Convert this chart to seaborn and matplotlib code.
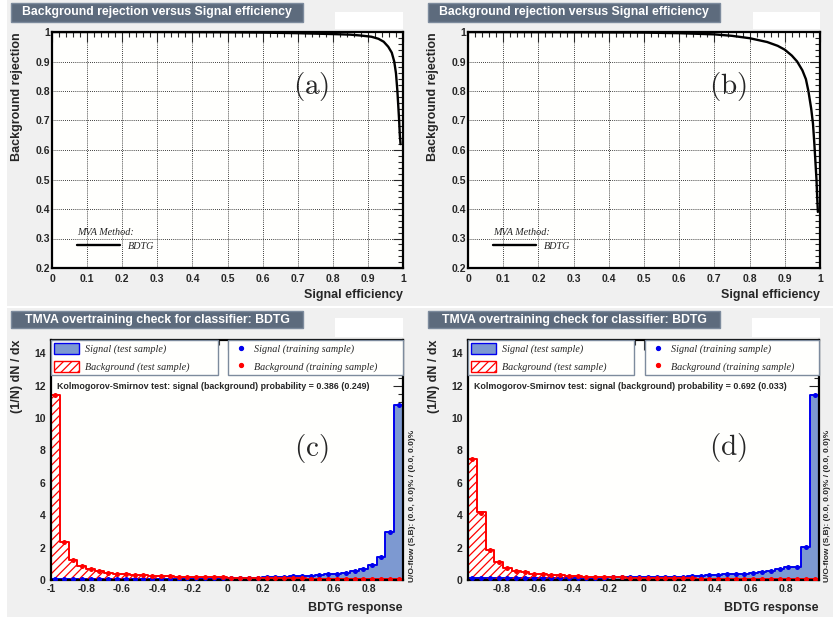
import numpy as np
import pandas as pd
import matplotlib
matplotlib.use("Agg")
import matplotlib.pyplot as plt
import seaborn as sns
from matplotlib.patches import Rectangle, Patch
from matplotlib.lines import Line2D
from matplotlib.ticker import MultipleLocator, FuncFormatter
from matplotlib.font_manager import FontProperties

# ROC curves (upper panels)
eff_a = [0.0, 0.3, 0.5, 0.6, 0.7, 0.8, 0.85, 0.88, 0.91, 0.93, 0.945, 0.958,
         0.968, 0.975, 0.98, 0.984, 0.987, 0.989, 0.991, 0.993]
rej_a = [1.0, 1.0, 0.999, 0.998, 0.996, 0.993, 0.991, 0.988, 0.984, 0.977, 0.967, 0.95,
         0.93, 0.9, 0.86, 0.8, 0.74, 0.7, 0.65, 0.62]
eff_b = [0.0, 0.3, 0.5, 0.6, 0.7, 0.75, 0.8, 0.85, 0.88, 0.9, 0.92, 0.935, 0.95,
         0.96, 0.967, 0.975, 0.98, 0.984, 0.987, 0.99, 0.992, 0.994]
rej_b = [1.0, 0.999, 0.998, 0.996, 0.992, 0.987, 0.979, 0.966, 0.953, 0.94, 0.92, 0.9, 0.87,
         0.84, 0.8, 0.74, 0.69, 0.62, 0.56, 0.5, 0.44, 0.39]

# overtraining check (lower panels), 40 bins each
range_c = (-1.0, 0.99)
sig_test_c = [0.04, 0.05, 0.05, 0.05, 0.06, 0.06, 0.06, 0.07, 0.07, 0.07,
              0.08, 0.08, 0.08, 0.09, 0.09, 0.10, 0.10, 0.11, 0.11, 0.12,
              0.12, 0.13, 0.14, 0.15, 0.17, 0.18, 0.20, 0.22, 0.24, 0.27,
              0.30, 0.34, 0.38, 0.45, 0.55, 0.66, 0.91, 1.40, 2.98, 10.8]
bkg_test_c = [11.45, 2.33, 1.24, 0.86, 0.66, 0.55, 0.46, 0.40, 0.35, 0.32,
              0.29, 0.27, 0.25, 0.23, 0.21, 0.20, 0.19, 0.18, 0.17, 0.16,
              0.15, 0.14, 0.13, 0.13, 0.12, 0.11, 0.11, 0.10, 0.10, 0.09,
              0.09, 0.08, 0.08, 0.07, 0.07, 0.06, 0.06, 0.05, 0.05, 0.04]
sig_train_c = [0.04, 0.05, 0.05, 0.05, 0.06, 0.06, 0.06, 0.07, 0.07, 0.07,
               0.08, 0.08, 0.08, 0.09, 0.09, 0.10, 0.10, 0.11, 0.11, 0.12,
               0.12, 0.13, 0.14, 0.15, 0.16, 0.18, 0.20, 0.22, 0.25, 0.27,
               0.30, 0.34, 0.39, 0.45, 0.55, 0.67, 0.90, 1.42, 2.98, 10.8]
bkg_train_c = [11.45, 2.32, 1.25, 0.86, 0.66, 0.54, 0.46, 0.40, 0.35, 0.32,
               0.29, 0.27, 0.25, 0.23, 0.21, 0.20, 0.19, 0.18, 0.17, 0.16,
               0.15, 0.14, 0.13, 0.13, 0.12, 0.11, 0.11, 0.10, 0.10, 0.09,
               0.09, 0.08, 0.08, 0.07, 0.07, 0.06, 0.06, 0.05, 0.05, 0.04]
ks_c = (0.386, 0.249)

range_d = (-0.99, 0.985)
sig_test_d = [0.12, 0.13, 0.13, 0.12, 0.12, 0.12, 0.12, 0.12, 0.12, 0.13,
              0.13, 0.13, 0.14, 0.14, 0.15, 0.15, 0.16, 0.16, 0.17, 0.18,
              0.19, 0.19, 0.20, 0.20, 0.21, 0.23, 0.25, 0.28, 0.32, 0.35,
              0.37, 0.40, 0.44, 0.50, 0.58, 0.66, 0.82, 0.82, 2.02, 11.43]
bkg_test_d = [7.47, 4.18, 1.85, 1.09, 0.74, 0.58, 0.47, 0.40, 0.35, 0.31,
              0.28, 0.25, 0.23, 0.21, 0.19, 0.18, 0.17, 0.16, 0.15, 0.14,
              0.13, 0.12, 0.12, 0.11, 0.10, 0.10, 0.09, 0.09, 0.08, 0.08,
              0.07, 0.07, 0.06, 0.06, 0.06, 0.05, 0.05, 0.05, 0.04, 0.04]
sig_train_d = [0.12, 0.13, 0.13, 0.12, 0.12, 0.12, 0.12, 0.12, 0.12, 0.13,
               0.13, 0.13, 0.14, 0.14, 0.15, 0.15, 0.16, 0.16, 0.17, 0.18,
               0.19, 0.19, 0.20, 0.20, 0.21, 0.23, 0.25, 0.28, 0.32, 0.35,
               0.37, 0.40, 0.44, 0.50, 0.58, 0.66, 0.81, 0.82, 2.02, 11.43]
bkg_train_d = [7.47, 4.16, 1.86, 1.09, 0.75, 0.58, 0.47, 0.40, 0.35, 0.31,
               0.28, 0.25, 0.23, 0.21, 0.19, 0.18, 0.17, 0.16, 0.15, 0.14,
               0.13, 0.12, 0.12, 0.11, 0.10, 0.10, 0.09, 0.09, 0.08, 0.08,
               0.07, 0.07, 0.06, 0.06, 0.06, 0.05, 0.05, 0.05, 0.04, 0.04]
ks_d = (0.692, 0.033)

# TMVA colours
CANVAS = "#f0f0f0"
FRAME = "#fffffd"
TITLE_BOX = "#5D6B7D"
TITLE_BORDER = "#7D8B9D"
SIG_LINE = "#0000ee"
SIG_FILL = "#7d99d1"
BKG_LINE = "#ff0000"

W, H = 833, 619

sns.set_style("white")
plt.rcParams["font.family"] = ["Liberation Sans", "DejaVu Sans"]
plt.rcParams["font.weight"] = "bold"
plt.rcParams["axes.labelweight"] = "bold"
plt.rcParams["hatch.color"] = BKG_LINE
plt.rcParams["hatch.linewidth"] = 0.9

serif_it = FontProperties(family="Liberation Serif", style="italic", weight="normal", size=7.3)
num_fmt = FuncFormatter(lambda v, pos: "%g" % round(v, 6))


def px_rect(x0, y0, x1, y1):
    # pixel box (from top left) -> figure fraction rect
    return [x0 / W, 1 - y1 / H, (x1 - x0) / W, (y1 - y0) / H]


def draw_panel(fig, box, title_box, stat_box, title):
    x0, y0, x1, y1 = box
    fig.add_artist(Rectangle((x0 / W, 1 - y1 / H), (x1 - x0) / W, (y1 - y0) / H,
                             transform=fig.transFigure, facecolor=CANVAS, edgecolor="none", zorder=-10))
    tx0, ty0, tx1, ty1 = title_box
    fig.add_artist(Rectangle((tx0 / W, 1 - ty1 / H), (tx1 - tx0) / W, (ty1 - ty0) / H,
                             transform=fig.transFigure, facecolor=TITLE_BOX, edgecolor=TITLE_BORDER,
                             linewidth=1, zorder=-5))
    fig.text((tx0 + tx1) / 2 / W, 1 - (ty0 + ty1) / 2 / H, title, color="white", fontsize=8.8,
             ha="center", va="center")
    sx0, sy0, sx1, sy1 = stat_box
    fig.add_artist(Rectangle((sx0 / W, 1 - sy1 / H), (sx1 - sx0) / W, (sy1 - sy0) / H,
                             transform=fig.transFigure, facecolor="white", edgecolor="none", zorder=-5))


def style_frame(ax):
    ax.set_facecolor(FRAME)
    for sp in ax.spines.values():
        sp.set_visible(True)
        sp.set_linewidth(1.6)
        sp.set_color("black")
    ax.tick_params(which="both", direction="in", top=True, right=True, width=0.8, labelsize=7.5)
    ax.tick_params(which="major", length=7)
    ax.tick_params(which="minor", length=3.5)
    ax.xaxis.set_major_formatter(num_fmt)
    ax.yaxis.set_major_formatter(num_fmt)


def draw_roc(ax, eff, rej, tag):
    sns.lineplot(x=eff, y=rej, ax=ax, color="black", linewidth=1.7, sort=False,
                 estimator=None, label="BDTG")
    ax.set_xlim(0, 1)
    ax.set_ylim(0.2, 1)
    style_frame(ax)
    ax.xaxis.set_major_locator(MultipleLocator(0.1))
    ax.xaxis.set_minor_locator(MultipleLocator(0.02))
    ax.yaxis.set_major_locator(MultipleLocator(0.1))
    ax.yaxis.set_minor_locator(MultipleLocator(0.02))
    ax.tick_params(axis="y", pad=1.5)
    ax.tick_params(axis="x", pad=4)
    ax.grid(True, which="major", color="black", linestyle=(0, (1, 1.5)), linewidth=0.6)
    ax.set_xlabel("Signal efficiency", fontsize=9, loc="right", labelpad=4)
    ax.set_ylabel("Background rejection", fontsize=9, loc="top", labelpad=9)
    ax.legend(title="MVA Method:", loc="lower left", bbox_to_anchor=(0.045, 0.035),
              frameon=False, prop=serif_it, title_fontproperties=serif_it,
              handlelength=4.2, handletextpad=0.8, labelspacing=0.4, alignment="left")
    ax.text(0.738, 0.767, r"$(\mathrm{%s})$" % tag, transform=ax.transAxes, fontsize=21,
            ha="center", va="center", math_fontfamily="cm")


def draw_overtrain(ax, lo, hi, sig_test, bkg_test, sig_train, bkg_train, ks, tag, tag_y):
    nbins = len(sig_test)
    width = (hi - lo) / nbins
    centers = [lo + width * (i + 0.5) for i in range(nbins)]
    df = pd.DataFrame({"x": centers, "sig": sig_test, "bkg": bkg_test,
                       "sig_tr": sig_train, "bkg_tr": bkg_train})
    sns.histplot(data=df, x="x", weights="sig", bins=nbins, binrange=(lo, hi), element="step",
                 fill=True, color=SIG_FILL, facecolor=SIG_FILL, edgecolor=SIG_LINE,
                 linewidth=1.4, alpha=1, ax=ax)
    sns.histplot(data=df, x="x", weights="bkg", bins=nbins, binrange=(lo, hi), element="step",
                 fill=True, color=BKG_LINE, facecolor="none", edgecolor=BKG_LINE, hatch="////",
                 linewidth=1.4, alpha=1, ax=ax)
    sns.scatterplot(data=df, x="x", y="sig_tr", color=SIG_LINE, s=13, linewidth=0, ax=ax, zorder=5)
    sns.scatterplot(data=df, x="x", y="bkg_tr", color=BKG_LINE, s=13, linewidth=0, ax=ax, zorder=5)
    ax.set_xlim(lo, hi)
    ax.set_ylim(0, 14.82)
    style_frame(ax)
    ax.xaxis.set_major_locator(MultipleLocator(0.2))
    ax.xaxis.set_minor_locator(MultipleLocator(0.05))
    ax.yaxis.set_major_locator(MultipleLocator(2))
    ax.yaxis.set_minor_locator(MultipleLocator(0.5))
    ax.tick_params(axis="y", pad=4)
    ax.tick_params(axis="x", pad=3)
    ax.set_xlabel("BDTG response", fontsize=9, loc="right", labelpad=6)
    ax.set_ylabel("(1/N) dN / dx", fontsize=9, loc="top", labelpad=8)

    test_handles = [Patch(facecolor=SIG_FILL, edgecolor=SIG_LINE, linewidth=1),
                    Patch(facecolor="white", edgecolor=BKG_LINE, hatch="////", linewidth=1)]
    leg1 = ax.legend(test_handles, ["Signal (test sample)", "Background (test sample)"],
                     loc="upper left", bbox_to_anchor=(0.0, 0.846, 0.474, 0.154), mode="expand",
                     prop=serif_it, fancybox=False, framealpha=1, borderaxespad=0,
                     handlelength=2.5, handleheight=1.3, handletextpad=0.55, labelspacing=0.65,
                     borderpad=0.3, edgecolor=TITLE_BORDER, facecolor=FRAME)
    ax.add_artist(leg1)
    train_handles = [Line2D([], [], marker="o", color=SIG_LINE, linestyle="none", markersize=2.8),
                     Line2D([], [], marker="o", color=BKG_LINE, linestyle="none", markersize=2.8)]
    ax.legend(train_handles, ["Signal (training sample)", "Background (training sample)"],
              loc="upper left", bbox_to_anchor=(0.503, 0.846, 0.497, 0.154), mode="expand",
              prop=serif_it, fancybox=False, framealpha=1, borderaxespad=0,
              handlelength=2.0, handleheight=1.3, handletextpad=0.3, labelspacing=0.65,
              borderpad=0.3, edgecolor=TITLE_BORDER, facecolor=FRAME)

    ax.text(0.017, 0.808, "Kolmogorov-Smirnov test: signal (background) probability = %.3f (%.3f)" % ks,
            transform=ax.transAxes, fontsize=6.4, ha="left", va="center", zorder=6)
    ax.text(0.74, tag_y, r"$(\mathrm{%s})$" % tag, transform=ax.transAxes, fontsize=21,
            ha="center", va="center", math_fontfamily="cm")


fig = plt.figure(figsize=(W / 100, H / 100), dpi=100)
fig.patch.set_facecolor("white")

roc_title = "Background rejection versus Signal efficiency"
ot_title = "TMVA overtraining check for classifier: BDTG"
draw_panel(fig, (7, 0, 420, 306), (11, 3, 303, 22), (335, 12, 403, 29), roc_title)
draw_panel(fig, (420, 0, 833, 306), (428, 3, 720, 22), (753, 12, 820, 29), roc_title)
draw_panel(fig, (7, 308, 420, 617), (11, 311, 303, 328), (335, 318, 403, 337), ot_title)
draw_panel(fig, (420, 308, 833, 617), (428, 311, 720, 328), (752, 318, 820, 337), ot_title)

ax_a = fig.add_axes(px_rect(52, 32, 403, 268))
ax_b = fig.add_axes(px_rect(468, 32, 820, 268))
ax_c = fig.add_axes(px_rect(51, 340, 403, 580))
ax_d = fig.add_axes(px_rect(468, 340, 819, 580))

draw_roc(ax_a, eff_a, rej_a, "a")
draw_roc(ax_b, eff_b, rej_b, "b")
draw_overtrain(ax_c, range_c[0], range_c[1], sig_test_c, bkg_test_c, sig_train_c, bkg_train_c, ks_c, "c", 0.546)
draw_overtrain(ax_d, range_d[0], range_d[1], sig_test_d, bkg_test_d, sig_train_d, bkg_train_d, ks_d, "d", 0.554)

uo = "U/O-flow (S,B): (0.0, 0.0)% / (0.0, 0.0)%"
fig.text(412.5 / W, 1 - 582 / H, uo, rotation=90, fontsize=6, ha="center", va="bottom")
fig.text(827.5 / W, 1 - 582 / H, uo, rotation=90, fontsize=6, ha="center", va="bottom")

fig.savefig("out.png", dpi=100)
